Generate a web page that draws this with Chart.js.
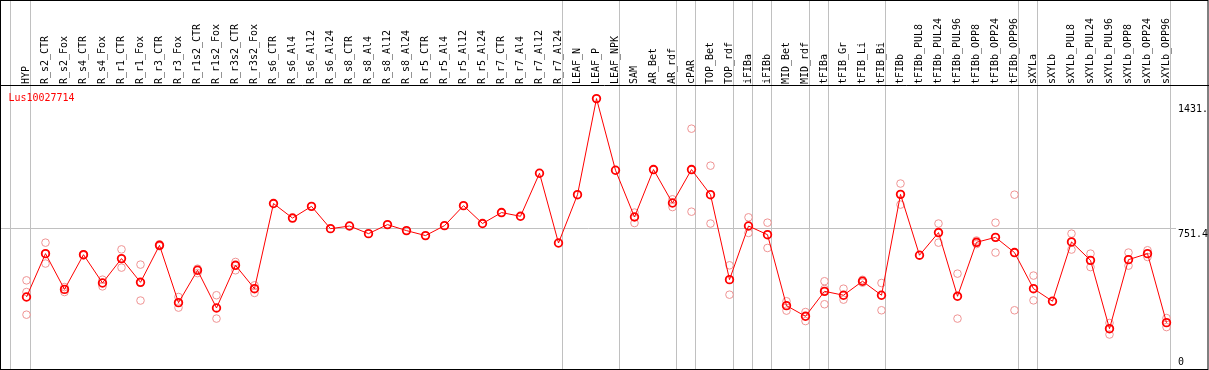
<!DOCTYPE html>
<html>
<head>
<meta charset="utf-8">
<script src="https://cdn.jsdelivr.net/npm/chart.js@4.4.0/dist/chart.umd.min.js"></script>
<style>
  html, body { margin: 0; padding: 0; background: #fff; }
  canvas { display: block; }
</style>
</head>
<body>
<canvas id="chart" width="1209" height="370"></canvas>
<script>
// sample names, left to right
const categories = [
  'HYP', 'R_s2_CTR', 'R_s2_Fox', 'R_s4_CTR', 'R_s4_Fox', 'R_r1_CTR', 'R_r1_Fox',
  'R_r3_CTR', 'R_r3_Fox', 'R_r1s2_CTR', 'R_r1s2_Fox', 'R_r3s2_CTR', 'R_r3s2_Fox',
  'R_s6_CTR', 'R_s6_Al4', 'R_s6_Al12', 'R_s6_Al24', 'R_s8_CTR', 'R_s8_Al4',
  'R_s8_Al12', 'R_s8_Al24', 'R_r5_CTR', 'R_r5_Al4', 'R_r5_Al12', 'R_r5_Al24',
  'R_r7_CTR', 'R_r7_Al4', 'R_r7_Al12', 'R_r7_Al24', 'LEAF_N', 'LEAF_P', 'LEAF_NPK',
  'SAM', 'AR_Bet', 'AR_rdf', 'cPAR', 'TOP_Bet', 'TOP_rdf', 'iFIBa', 'iFIBb',
  'MID_Bet', 'MID_rdf', 'tFIBa', 'tFIB_Gr', 'tFIB_Li', 'tFIB_Bi', 'tFIBb',
  'tFIBb_PUL8', 'tFIBb_PUL24', 'tFIBb_PUL96', 'tFIBb_OPP8', 'tFIBb_OPP24', 'tFIBb_OPP96',
  'sXYLa', 'sXYLb', 'sXYLb_PUL8', 'sXYLb_PUL24', 'sXYLb_PUL96', 'sXYLb_OPP8',
  'sXYLb_OPP24', 'sXYLb_OPP96'
];

// mean expression per sample
const means = [
  365, 610, 408, 604, 444, 582, 448, 657, 333, 516, 303, 544, 412,
  893, 811, 877, 751, 766, 723, 774, 740, 712, 768, 881, 780, 842, 821, 1064, 670,
  943, 1486, 1081,
  817, 1085, 896, 1085, 943, 463, 766, 717, 316, 256, 397, 375, 454, 375, 945,
  601, 729, 369, 674, 702, 616, 412, 341, 676, 572, 186, 576, 610, 220
];

// individual replicates per sample
const replicates = [
  [459, 393, 265], [672, 554, 610], [421, 393], [606, 600], [463, 425],
  [634, 531], [548, 345], [662, 652], [365, 305], [525, 500], [375, 243],
  [563, 516], [431, 388],
  [], [], [], [], [], [], [], [], [], [], [], [], [], [], [], [],
  [], [], [],
  [842, 783], [], [917, 873], [1316, 847], [1107, 780], [544, 378], [815, 727],
  [785, 642], [341, 288], [280, 229], [454, 324, 410], [412, 350], [462, 446],
  [444, 290], [1006, 887],
  [], [780, 672], [497, 243], [684, 664], [785, 616], [943, 290],
  [486, 346], [], [723, 633], [610, 534], [218, 153], [616, 542], [629, 591], [246, 195]
];

// last sample index of each group (grey separators)
const groupEnds = [0, 28, 31, 34, 35, 37, 38, 39, 41, 42, 45, 52, 53, 60];

const title = 'Lus10027714';
const tickValues = [0, 751.4, 1431];
const tickLabels = ['0', '751.4', '1431.'];
const gridValues = [751.4];

const FONT = "11px 'DejaVu Sans Mono', monospace";
const SQUEEZE = 0.906; // narrow the glyph advance to ~6px

const meanPoints = means.map((v, i) => ({ x: i, y: v }));
const repPoints = [];
replicates.forEach((arr, i) => arr.forEach(v => repPoints.push({ x: i, y: v })));

const frame = {
  id: 'frame',
  beforeDatasetsDraw(chart) {
    const ctx = chart.ctx;
    const xs = chart.scales.x, ys = chart.scales.y;
    const W = chart.width;
    const headerY = 85.5, bottomY = 369.5;

    ctx.save();
    ctx.fillStyle = '#fff';
    ctx.fillRect(0, 0, W, chart.height);

    // grey separators between sample groups
    ctx.strokeStyle = '#c0c0c0';
    ctx.lineWidth = 1;
    const seps = [-0.84].concat(groupEnds.map(i => i + 0.21));
    seps.forEach(v => {
      const px = Math.floor(xs.getPixelForValue(v)) + 0.5;
      ctx.beginPath(); ctx.moveTo(px, 0); ctx.lineTo(px, bottomY); ctx.stroke();
    });

    // horizontal grid line
    gridValues.forEach(v => {
      const py = Math.floor(ys.getPixelForValue(v)) + 0.5;
      ctx.beginPath(); ctx.moveTo(1, py); ctx.lineTo(1176, py); ctx.stroke();
    });

    // outer frame + header line
    ctx.strokeStyle = '#000';
    ctx.strokeRect(0.5, 0.5, W - 1.5, bottomY - 0.5);
    ctx.beginPath(); ctx.moveTo(0, headerY); ctx.lineTo(W, headerY); ctx.stroke();

    // rotated sample labels
    ctx.font = FONT;
    ctx.fillStyle = '#000';
    ctx.textAlign = 'left';
    ctx.textBaseline = 'alphabetic';
    categories.forEach((lab, i) => {
      const px = xs.getPixelForValue(i);
      ctx.save();
      ctx.translate(px + 2.5, 84);
      ctx.rotate(-Math.PI / 2);
      ctx.scale(SQUEEZE, 1);
      ctx.fillText(lab, 0, 0);
      ctx.restore();
    });

    // gene name
    ctx.save();
    ctx.fillStyle = '#ff0000';
    ctx.translate(8.5, 101);
    ctx.scale(SQUEEZE, 1);
    ctx.fillText(title, 0, 0);
    ctx.restore();

    // value labels on the right: grid label hangs under its line, end labels centred
    ctx.save();
    ctx.beginPath();
    ctx.rect(0, 0, W - 1, chart.height);
    ctx.clip();
    tickValues.forEach((v, k) => {
      const py = ys.getPixelForValue(v);
      const dy = gridValues.includes(v) ? 8 : 3.5;
      ctx.save();
      ctx.translate(1178, py + dy);
      ctx.scale(SQUEEZE, 1);
      ctx.fillText(tickLabels[k], 0, 0);
      ctx.restore();
    });
    ctx.restore();

    ctx.restore();
  }
};

new Chart(document.getElementById('chart'), {
  type: 'scatter',
  data: {
    datasets: [
      {
        data: meanPoints,
        showLine: true,
        borderColor: '#ff0000',
        borderWidth: 1,
        pointRadius: 3.8,
        pointBorderWidth: 1.8,
        pointBorderColor: '#ff0000',
        pointBackgroundColor: 'rgba(0,0,0,0)',
        order: 0
      },
      {
        data: repPoints,
        showLine: false,
        pointRadius: 3.8,
        pointBorderWidth: 1,
        pointBorderColor: '#f09494',
        pointBackgroundColor: 'rgba(0,0,0,0)',
        order: 1
      }
    ]
  },
  options: {
    responsive: false,
    animation: false,
    layout: { padding: 0, autoPadding: false },
    plugins: { legend: { display: false }, tooltip: { enabled: false } },
    scales: {
      x: { type: 'linear', display: false, min: -26.5 / 19, max: -26.5 / 19 + 1209 / 19 },
      y: { type: 'linear', display: false, min: 2042.94 - 370 / 0.177, max: 2042.94 }
    }
  },
  plugins: [frame]
});
</script>
</body>
</html>
